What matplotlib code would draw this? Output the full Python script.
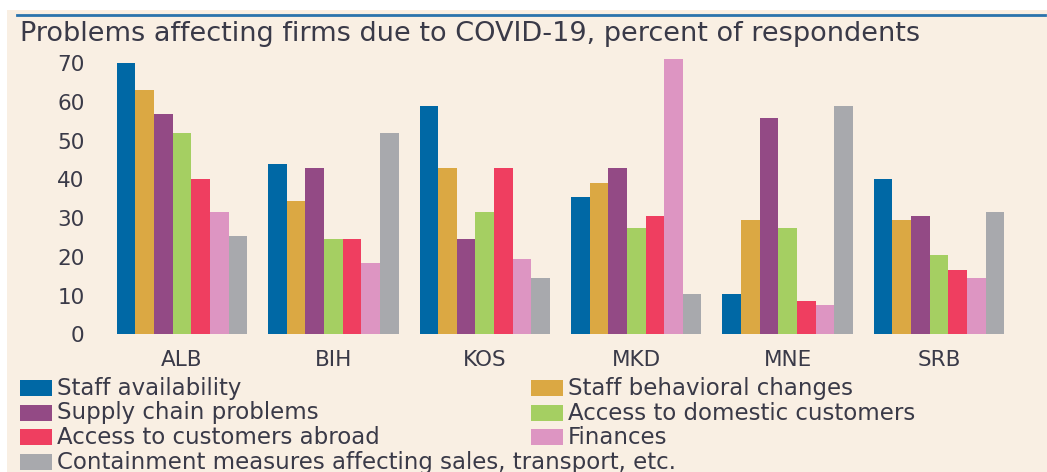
import matplotlib
matplotlib.use("Agg")
import matplotlib.pyplot as plt
from matplotlib.patches import Rectangle
from matplotlib.lines import Line2D
import numpy as np

countries = ["ALB", "BIH", "KOS", "MKD", "MNE", "SRB"]
problems = [
    "Staff availability",
    "Staff behavioral changes",
    "Supply chain problems",
    "Access to domestic customers",
    "Access to customers abroad",
    "Finances",
    "Containment measures affecting sales, transport, etc.",
]
staff_availability = [70, 44, 59, 35.5, 10.5, 40]
staff_behavior = [63, 34.5, 43, 39, 29.5, 29.5]
supply_chain = [57, 43, 24.5, 43, 56, 30.5]
domestic_customers = [52, 24.5, 31.5, 27.5, 27.5, 20.5]
customers_abroad = [40, 24.5, 43, 30.5, 8.5, 16.5]
finances = [31.5, 18.5, 19.5, 71, 7.5, 14.5]
containment = [25.5, 52, 14.5, 10.5, 59, 31.5]
series = [staff_availability, staff_behavior, supply_chain, domestic_customers,
          customers_abroad, finances, containment]
colors = ["#0068a5", "#dba843", "#934a85", "#a5cf62", "#ef3e60", "#dd95c2", "#a8a9ad"]

W, H = 1047, 472
fig = plt.figure(figsize=(W / 100, H / 100), dpi=100, facecolor="white")

# beige panel and top rule
fig.patches.append(Rectangle((7 / W, 0), 1 - 7 / W, (H - 10) / H,
                             transform=fig.transFigure, facecolor="#f9efe3",
                             edgecolor="none", zorder=-5))
fig.lines.append(Line2D([17 / W, 1045 / W], [(H - 15) / H] * 2,
                        transform=fig.transFigure, color="#2a73ad", lw=2))

txt = "#3a3a48"
fig.text(20 / W, (H - 34) / H, "Problems affecting firms due to COVID-19, percent of respondents",
         fontsize=19.5, color=txt, va="center", ha="left")

bottom_px, scale = 334.3, 3.871
ymax = 72
ax = fig.add_axes([100 / W, (H - bottom_px) / H, 920 / W, ymax * scale / H])
ax.set_facecolor("none")
x = np.arange(len(countries))
w = 0.1229
for i, (vals, c) in enumerate(zip(series, colors)):
    ax.bar(x + (i - 3) * w, vals, width=w, color=c, edgecolor="none")
ax.set_xlim(-0.5416, 5.535)
ax.set_ylim(0, ymax)
ax.set_yticks(range(0, 71, 10))
ax.set_xticks(x)
ax.set_xticklabels(countries)
for s in ax.spines.values():
    s.set_visible(False)
ax.tick_params(length=0, labelsize=15.5, colors=txt)
ax.tick_params(axis="y", pad=11)
ax.tick_params(axis="x", pad=11)

# legend, two columns in row order
rows_y = [388, 413, 437, 462]
cols_x = [20, 531]
for k, (lab, c) in enumerate(zip(problems, colors)):
    cx = cols_x[k % 2]
    cy = rows_y[k // 2]
    fig.patches.append(Rectangle((cx / W, (H - cy - 8) / H), 32 / W, 16 / H,
                                 transform=fig.transFigure, facecolor=c,
                                 edgecolor="none"))
    fig.text((cx + 37) / W, (H - cy) / H, lab, fontsize=16.5, color=txt,
             va="center", ha="left")

fig.savefig("out.png", dpi=100, facecolor="white")
